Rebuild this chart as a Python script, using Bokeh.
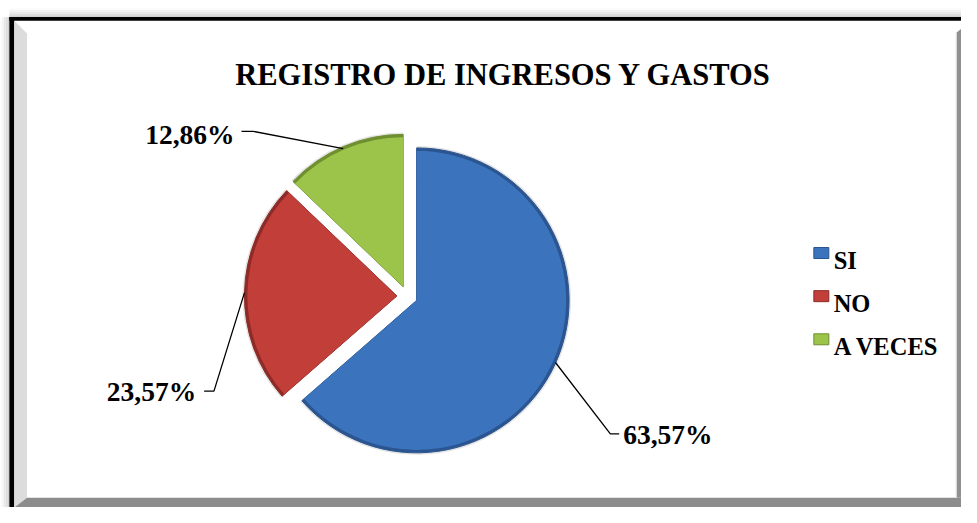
import numpy as np
from bokeh.plotting import figure
from bokeh.models import Range1d, ColumnDataSource
from bokeh.core.properties import value
from bokeh.embed import file_html
from bokeh.resources import INLINE

# ---- data ----
title_text = "REGISTRO DE INGRESOS Y GASTOS"
categories = ["SI", "NO", "A VECES"]
percentages = [63.57, 23.57, 12.86]
colors = ["#3b73bd", "#c23e39", "#9cc34a"]
light_colors = ["#4a86d0", "#d04a45", "#a8d05a"]
edge_colors = ["#2b5590", "#8e2a27", "#6f8f30"]

# ---- layout: reference pixel space 977 x 523 mapped onto the figure ----
W, H = 961, 507
RW, RH = 977, 523


def Y(py):
    return RH - py


p = figure(width=W, height=H, x_range=Range1d(0, RW), y_range=Range1d(0, RH),
           output_backend="svg", toolbar_location=None, min_border=0,
           x_axis_type=None, y_axis_type=None)
p.grid.visible = False
p.outline_line_color = None
p.background_fill_color = "white"
p.border_fill_color = "white"

SERIF = value("Liberation Serif")

# ---- frame ----
shadow_cols = ["#fbfbfb", "#f3f3f3", "#e9e9e9", "#dedede", "#d2d2d2"]
for i, c in enumerate(shadow_cols):
    p.quad(left=[9], right=[RW], top=[Y(8 + i * 1.8)], bottom=[Y(8 + (i + 1) * 1.8)],
           fill_color=c, line_color=None)
for i, c in enumerate(shadow_cols):
    p.quad(left=[i * 1.8], right=[(i + 1) * 1.8], top=[Y(17)], bottom=[Y(RH)],
           fill_color=c, line_color=None)
p.quad(left=[9], right=[RW], top=[Y(17)], bottom=[Y(21)], fill_color="black", line_color=None)
p.quad(left=[9], right=[14], top=[Y(17)], bottom=[Y(RH)], fill_color="black", line_color=None)
# left bevel
p.patch(x=[14, 27, 27, 14], y=[Y(21), Y(34), Y(513), Y(523)], fill_color="#dcdcdc", line_color=None)
# bottom strip
p.patch(x=[14, 27, RW, RW], y=[Y(523), Y(513), Y(513), Y(523)], fill_color="#8c8c8c", line_color=None)
# right strip
p.patch(x=[972, RW, RW, 972], y=[Y(33), Y(29), Y(513), Y(513)], fill_color="#909090", line_color=None)
p.line(x=[971.5, 971.5], y=[Y(34), Y(513)], line_color="#e6e6e6", line_width=1)

# ---- pie ----
CX, CY = 413.5, Y(305)
R = 155
EXPLODE = 10.5

vals = np.array(percentages, dtype=float)
frac = vals / vals.sum()
cum = np.concatenate([[0], np.cumsum(frac)])
start = np.pi / 2 - 2 * np.pi * cum[:-1]
end = np.pi / 2 - 2 * np.pi * cum[1:]
mid = (start + end) / 2
cx = CX + EXPLODE * np.cos(mid)
cy = CY + EXPLODE * np.sin(mid)

src = ColumnDataSource(dict(x=cx, y=cy, start=start, end=end, color=colors,
                            light=light_colors, edge=edge_colors))
# soft shadow
p.wedge(x="x", y="y", radius=R + 2, start_angle="start", end_angle="end", direction="clock",
        source=src, fill_color="#000000", fill_alpha=0.10, line_color=None)
p.wedge(x="x", y="y", radius=R, start_angle="start", end_angle="end", direction="clock",
        source=src, fill_color="edge", line_color="edge", line_width=1)
p.wedge(x="x", y="y", radius=R - 3, start_angle="start", end_angle="end", direction="clock",
        source=src, fill_color="color", line_color=None)

# ---- data labels with leader lines ----
labels = [f"{v:.2f}%".replace(".", ",") for v in percentages]
elbow_px = [(620, 447), (217, 403), (257, 135)]
end_px = [(629, 447), (207, 403), (245, 135)]
label_px = [(633, 448, "left"), (199, 403, "right"), (238, 138, "right")]
for i in range(3):
    ax = cx[i] + R * np.cos(mid[i])
    ay = cy[i] + R * np.sin(mid[i])
    ex, ey = elbow_px[i]
    fx, fy = end_px[i]
    p.line(x=[ax, ex, fx], y=[ay, Y(ey), Y(fy)], line_color="black", line_width=1.3)
    lx, ly, al = label_px[i]
    p.text(x=[lx], y=[Y(ly)], text=[labels[i]], text_font=SERIF, text_font_style="bold",
           text_font_size="27.5px", text_align=al, text_baseline="alphabetic", text_color="black")

# ---- title ----
p.text(x=[511.5], y=[Y(77)], text=[title_text], text_font=SERIF, text_font_style="bold",
       text_font_size="30.5px", text_align="center", text_baseline="alphabetic", text_color="black")

# ---- legend ----
leg_y = [260.5, 305, 349.5]
leg_src = ColumnDataSource(dict(x=[834.5] * 3, y=[Y(v) for v in leg_y], color=colors,
                                edge=edge_colors, tx=[847] * 3, ty=[Y(v + 7.5) for v in leg_y],
                                text=categories))
p.rect(x="x", y="y", width=15, height=11, width_units="screen", height_units="screen",
       source=leg_src, fill_color="color", line_color="edge", line_width=1)
p.text(x="tx", y="ty", text="text", source=leg_src, text_font=SERIF, text_font_style="bold",
       text_font_size="24.5px", text_align="left", text_baseline="alphabetic", text_color="black")

open("out.html", "w").write(file_html(p, INLINE))
